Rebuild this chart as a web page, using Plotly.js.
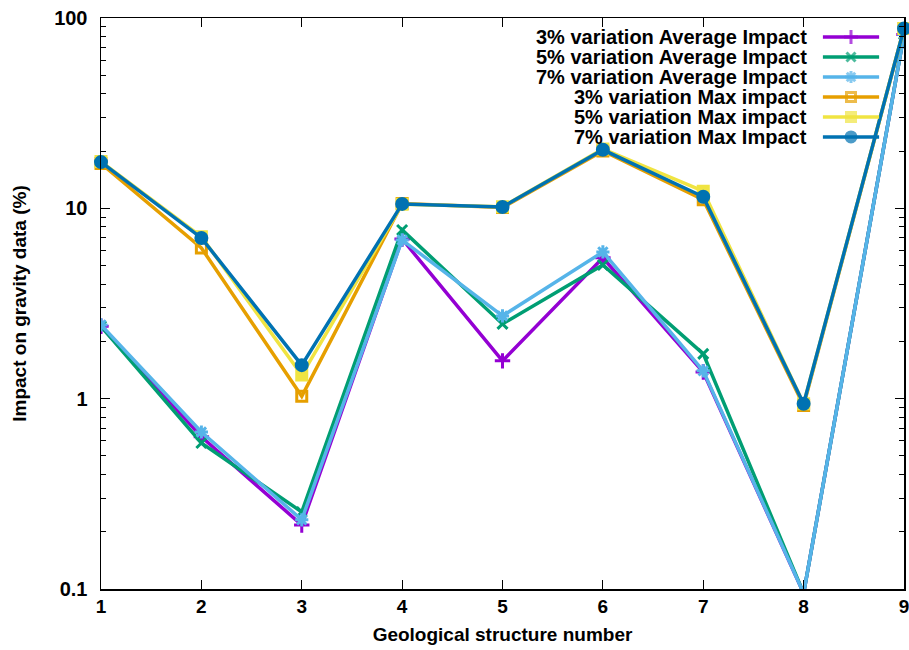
<!DOCTYPE html>
<html>
<head>
<meta charset="utf-8">
<script src="https://cdn.plot.ly/plotly-3.0.1.min.js"></script>
<style>html,body{margin:0;padding:0;background:#fff;}#chart{width:909px;height:650px;}</style>
</head>
<body>
<div id="chart"></div>
<script>
const structures = [1, 2, 3, 4, 5, 6, 7, 8, 9];
const avg3 = [2.40, 0.63, 0.217, 6.9, 1.58, 5.5, 1.38, 0.095, 82];
const avg5 = [2.40, 0.585, 0.254, 7.7, 2.47, 5.04, 1.72, 0.095, 82];
const avg7 = [2.44, 0.668, 0.231, 6.82, 2.72, 5.9, 1.40, 0.095, 82];
const max3 = [17.2, 6.19, 1.03, 10.6, 10.1, 20.0, 11.1, 0.92, 88];
const max5 = [17.6, 7.1, 1.33, 10.5, 10.2, 20.5, 12.3, 0.94, 88];
const max7 = [17.5, 6.99, 1.50, 10.55, 10.17, 20.3, 11.5, 0.94, 88];
const seriesNames = ['3% variation Average Impact', '5% variation Average Impact', '7% variation Average Impact',
  '3% variation Max impact', '5% variation Max impact', '7% variation Max Impact'];
const xTickVals = [1, 2, 3, 4, 5, 6, 7, 8, 9];
const yTickVals = [0.1, 1, 10, 100];
const yTickText = ['0.1', '1', '10', '100'];

const colors = ['#9400d3', '#009e73', '#56b4e9', '#e69f00', '#f0e442', '#0072b2'];
const symbols = ['cross-thin-open', 'x-thin-open', 'asterisk-open', 'square-open', 'square', 'circle'];
const msizes = [11, 10, 11, 10, 10, 11];
const values = [avg3, avg5, avg7, max3, max5, max7];
const FONT = 'Liberation Sans, Arial, sans-serif';

const traces = values.map((v, i) => ({
  x: structures, y: v, type: 'scatter', mode: 'lines+markers', name: seriesNames[i],
  line: {color: colors[i], width: 3.5},
  marker: {symbol: symbols[i], size: msizes[i], color: colors[i], line: {color: colors[i], width: 3}},
  cliponaxis: i >= 3 ? false : true,
  showlegend: false
}));

// custom legend (text right, sample on right) in an overlay paper-like axis
const legY0 = 0.9667, legDy = 0.035;
const annotations = [];
seriesNames.forEach((n, i) => {
  const yy = legY0 - i * legDy;
  traces.push({
    x: [0.899, 0.934, 0.969], y: [yy, yy, yy], xaxis: 'x2', yaxis: 'y2',
    type: 'scatter', mode: 'lines+markers', showlegend: false, hoverinfo: 'skip', cliponaxis: false,
    line: {color: colors[i], width: 3.5},
    marker: {symbol: symbols[i], size: [0, msizes[i] - 1, 0], color: colors[i], line: {color: colors[i], width: 3}}
  });
  annotations.push({
    xref: 'paper', yref: 'paper', x: 0.8817, y: yy, xanchor: 'right', yanchor: 'middle',
    text: '<b>' + n + '</b>', showarrow: false, font: {family: FONT, size: 20, color: '#000'}
  });
});

const layout = {
  width: 909, height: 650,
  margin: {l: 101, r: 5, t: 18, b: 61},
  paper_bgcolor: '#fff', plot_bgcolor: '#fff',
  font: {family: FONT, color: '#000'},
  showlegend: false,
  xaxis: {
    range: [1, 9], tickvals: xTickVals,
    showgrid: false, zeroline: false,
    showline: true, linecolor: '#000', linewidth: 1.5, mirror: 'ticks',
    ticks: 'inside', ticklen: 9, tickwidth: 1, tickcolor: '#000',
    ticklabeloverflow: 'allow',
    tickfont: {family: FONT, size: 19, color: '#000', weight: 'bold'},
    title: {text: '<b>Geological structure number</b>', font: {family: FONT, size: 19}, standoff: 11}
  },
  yaxis: {
    type: 'log', range: [-1, 2],
    tickvals: yTickVals, ticktext: yTickText,
    showgrid: false, zeroline: false,
    showline: true, linecolor: '#000', linewidth: 1.5, mirror: 'ticks',
    ticks: 'inside', ticklen: 9, tickwidth: 1, tickcolor: '#000',
    ticklabelstandoff: 8,
    minor: {ticks: 'inside', ticklen: 5, tickwidth: 1, tickcolor: '#000', dtick: 'D1', showgrid: false},
    tickfont: {family: FONT, size: 20, color: '#000', weight: 'bold'},
    title: {text: '<b>Impact on gravity data (%)</b>', font: {family: FONT, size: 19}, standoff: 22}
  },
  xaxis2: {overlaying: 'x', range: [0, 1], visible: false, fixedrange: true},
  yaxis2: {overlaying: 'y', range: [0, 1], visible: false, fixedrange: true},
  annotations: annotations
};

Plotly.newPlot('chart', traces, layout, {displayModeBar: false, staticPlot: true});
</script>
</body>
</html>
